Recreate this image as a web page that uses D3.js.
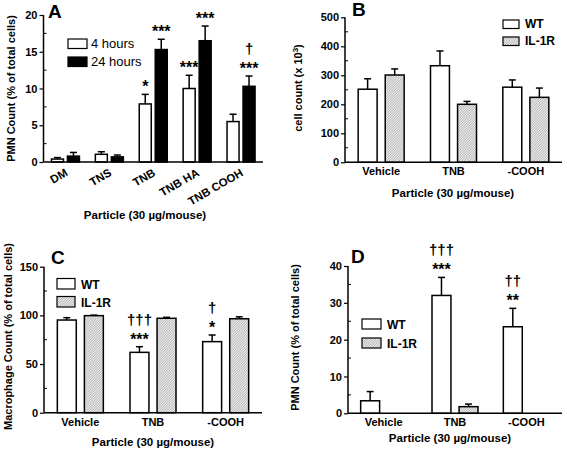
<!DOCTYPE html>
<html><head><meta charset="utf-8">
<script src="https://cdn.jsdelivr.net/npm/d3@7"></script>
<style>
html,body{margin:0;padding:0;background:#fff;}
svg{display:block;font-family:"Liberation Sans",Arial,sans-serif;}
</style></head>
<body><svg id="c" width="567" height="451"></svg>
<script>
// ---- Data ----
const catsA = ["DM", "TNS", "TNB", "TNB HA", "TNB COOH"];
const seriesA = ["4 hours", "24 hours"];
const a4h = [0.4, 1.05, 7.9, 10.0, 5.5];
const a4hErr = [0.2, 0.35, 1.3, 1.8, 1.0];
const a24h = [0.8, 0.7, 15.3, 16.5, 10.3];
const a24hErr = [0.5, 0.25, 1.4, 2.0, 1.4];
const a4hStars = ["", "", "*", "***", ""];
const a24hStars = ["", "", "***", "***", "***"];
const a24hDaggers = ["", "", "", "", "†"];
const ticksA = [0, 5, 10, 15, 20];

const catsBCD = ["Vehicle", "TNB", "-COOH"];
const seriesBCD = ["WT", "IL-1R"];
const bWT = [252, 333, 259];
const bWTErr = [36, 51, 25];
const bIL = [301, 200, 224];
const bILErr = [21, 10, 32];
const ticksB = [0, 100, 200, 300, 400, 500];

const cWT = [95.2, 62, 73];
const cWTErr = [2.4, 5.8, 6.8];
const cIL = [99.7, 97, 96.5];
const cILErr = [0.5, 1, 2];
const cWTStars = ["", "***", "*"];
const cWTDaggers = ["", "†††", "†"];
const ticksC = [0, 50, 100, 150];

const dWT = [3.4, 32, 23.5];
const dWTErr = [2.5, 4.9, 5];
const dIL = [0, 1.8, 0];
const dILErr = [0, 0.7, 0];
const dWTStars = ["", "***", "**"];
const dWTDaggers = ["", "†††", "††"];
const ticksD = [0, 10, 20, 30, 40];

const emptyA = catsA.map(() => "");
const empty3 = catsBCD.map(() => "");

// ---- Drawing ----
const svg = d3.select("#c");
const defs = svg.append("defs");
const pat = defs.append("pattern").attr("id", "hatch").attr("patternUnits", "userSpaceOnUse")
  .attr("width", 2.5).attr("height", 2.5);
pat.append("rect").attr("width", 2.5).attr("height", 2.5).attr("fill", "#f0f0f0");
pat.append("path").attr("d", "M-1,1 l2,-2 M0,2.5 l2.5,-2.5 M1.5,3.5 l2,-2")
  .attr("stroke", "#8c8c8c").attr("stroke-width", 0.7);

const fills = { white: "#fff", black: "#000", hatch: "url(#hatch)" };

function panel(cfg) {
  const g = svg.append("g");
  const x = d3.scaleBand().domain(cfg.cats).range(cfg.xr);
  const xi = d3.scaleBand().domain(d3.range(cfg.series.length)).range([-cfg.half, cfg.half]).paddingInner(cfg.pad);
  const y = d3.scaleLinear().domain(cfg.ydom).range(cfg.yr);

  // bars
  cfg.series.forEach((s, si) => {
    const vals = cfg.values[si], errs = cfg.errs[si];
    cfg.cats.forEach((c, ci) => {
      const v = vals[ci];
      const cx = x(c) + x.bandwidth() / 2;
      const bx = cx + xi(si);
      const bw = xi.bandwidth();
      if (v > 0) {
        g.append("rect").attr("x", bx).attr("y", y(v)).attr("width", bw)
          .attr("height", y(0) - y(v)).attr("fill", fills[cfg.fills[si]])
          .attr("stroke", "#000").attr("stroke-width", 1.5);
      }
      const e = errs[ci];
      if (e > 0) {
        const mx = bx + bw / 2, yt = y(v + e);
        g.append("line").attr("x1", mx).attr("x2", mx).attr("y1", y(v)).attr("y2", yt)
          .attr("stroke", "#000").attr("stroke-width", 1.5);
        g.append("line").attr("x1", mx - 3.5).attr("x2", mx + 3.5).attr("y1", yt).attr("y2", yt)
          .attr("stroke", "#000").attr("stroke-width", 1.5);
      }
      const st = cfg.stars[si][ci], dg = cfg.daggers[si][ci];
      const sb = y(v + e) - 2;
      if (st) g.append("text").attr("x", bx + bw / 2).attr("y", sb).attr("text-anchor", "middle")
        .attr("font-size", 16).attr("font-weight", "bold").attr("fill", "#000").text(st);
      if (dg) g.append("text").attr("x", bx + bw / 2).attr("y", sb - 20).attr("text-anchor", "middle")
        .attr("font-size", 15).attr("font-weight", "bold").attr("fill", "#000").text(dg);
    });
  });

  // axes
  const ax = cfg.xr[0];
  g.append("line").attr("x1", ax).attr("x2", ax).attr("y1", y(cfg.ydom[1])).attr("y2", y(0))
    .attr("stroke", "#000").attr("stroke-width", 1.5);
  g.append("line").attr("x1", ax).attr("x2", cfg.xr[1]).attr("y1", y(0)).attr("y2", y(0))
    .attr("stroke", "#000").attr("stroke-width", 1.5);
  const ya = d3.axisLeft(y).tickValues(cfg.ticks).tickSize(4).tickFormat(d3.format("d"));
  const yg = g.append("g").attr("transform", `translate(${ax},0)`).call(ya);
  yg.select(".domain").remove();
  yg.selectAll(".tick line").attr("stroke-width", 1.2);
  yg.selectAll(".tick text").attr("font-size", 11).attr("font-weight", "bold")
    .attr("font-family", "Liberation Sans, Arial, sans-serif").attr("x", -6);
  // minor ticks
  const step = cfg.ticks[1] - cfg.ticks[0];
  cfg.ticks.slice(0, -1).forEach(t => {
    g.append("line").attr("x1", ax).attr("x2", ax + 3).attr("y1", y(t + step / 2)).attr("y2", y(t + step / 2))
      .attr("stroke", "#000").attr("stroke-width", 1);
  });

  // x labels
  cfg.cats.forEach(c => {
    const cx = x(c) + x.bandwidth() / 2;
    if (cfg.rot) {
      g.append("text").attr("transform", `translate(${cx + 3},${y(0) + 13}) rotate(-30)`)
        .attr("text-anchor", "end").attr("font-size", 11.5).attr("font-weight", "bold").text(c);
    } else {
      g.append("text").attr("x", cx).attr("y", y(0) + 13).attr("text-anchor", "middle")
        .attr("font-size", 11).attr("font-weight", "bold").text(c);
    }
  });
  g.append("text").attr("x", cfg.xt[0]).attr("y", cfg.xt[1]).attr("text-anchor", "middle")
    .attr("font-size", 11.5).attr("font-weight", "bold").text("Particle (30 µg/mouse)");
  // y label
  const yl = g.append("text").attr("transform", `translate(${cfg.yt[0]},${cfg.yt[1]}) rotate(-90)`)
    .attr("text-anchor", "middle").attr("font-size", 11).attr("font-weight", "bold");
  if (cfg.ysup) {
    yl.append("tspan").text(cfg.ylabel);
    yl.append("tspan").attr("font-size", 8).attr("dy", -4).text(cfg.ysup);
    yl.append("tspan").attr("dy", 4).text(")");
  } else yl.text(cfg.ylabel);
  // panel letter
  g.append("text").attr("x", cfg.letter[1]).attr("y", cfg.letter[2]).attr("font-size", 19)
    .attr("font-weight", "bold").text(cfg.letter[0]);
  // legend
  const L = cfg.legend;
  cfg.series.forEach((s, si) => {
    const ly = L.y + si * L.dy;
    g.append("rect").attr("x", L.x).attr("y", ly).attr("width", L.w).attr("height", L.h)
      .attr("fill", fills[cfg.fills[si]]).attr("stroke", "#000").attr("stroke-width", 1.2);
    g.append("text").attr("x", L.x + L.w + L.tx).attr("y", ly + L.h - 0.5)
      .attr("font-size", L.fs).attr("font-weight", L.fw).text(s);
  });
}

panel({
  cats: catsA, series: seriesA, values: [a4h, a24h], errs: [a4hErr, a24hErr],
  stars: [a4hStars, a24hStars], daggers: [emptyA, a24hDaggers], fills: ["white", "black"],
  xr: [43.5, 263], half: 14, pad: 0.25, ydom: [0, 20], yr: [162, 15], ticks: ticksA,
  rot: true, xt: [145, 219], yt: [15, 88.5], ylabel: "PMN Count (% of total cells)",
  letter: ["A", 48, 18],
  legend: { x: 68, y: 39, dy: 18, w: 19, h: 9.5, tx: 4, fs: 13, fw: "normal" }
});
panel({
  cats: catsBCD, series: seriesBCD, values: [bWT, bIL], errs: [bWTErr, bILErr],
  stars: [empty3, empty3], daggers: [empty3, empty3], fills: ["white", "hatch"],
  xr: [345, 562], half: 23, pad: 0.3, ydom: [0, 500], yr: [162.3, 17.3], ticks: ticksB,
  rot: false, xt: [453, 197], yt: [302, 88], ylabel: "cell count (x 10", ysup: "3",
  letter: ["B", 352, 16],
  legend: { x: 503, y: 20, dy: 17, w: 16, h: 8.5, tx: 6, fs: 12, fw: "bold" }
});
panel({
  cats: catsBCD, series: seriesBCD, values: [cWT, cIL], errs: [cWTErr, cILErr],
  stars: [cWTStars, empty3], daggers: [cWTDaggers, empty3], fills: ["white", "hatch"],
  xr: [44, 262], half: 23, pad: 0.3, ydom: [0, 150], yr: [412.7, 266.7], ticks: ticksC,
  rot: false, xt: [153, 446], yt: [12, 336.5], ylabel: "Macrophage Count (% of total cells)",
  letter: ["C", 51, 264],
  legend: { x: 57, y: 278.5, dy: 18, w: 18, h: 10.5, tx: 6, fs: 12, fw: "bold" }
});
panel({
  cats: catsBCD, series: seriesBCD, values: [dWT, dIL], errs: [dWTErr, dILErr],
  stars: [dWTStars, empty3], daggers: [dWTDaggers, empty3], fills: ["white", "hatch"],
  xr: [348, 562], half: 23, pad: 0.3, ydom: [0, 40], yr: [413.3, 266], ticks: ticksD,
  rot: false, xt: [450, 442], yt: [299, 337.5], ylabel: "PMN Count (% of total cells)",
  letter: ["D", 351, 263],
  legend: { x: 362, y: 319, dy: 19, w: 19, h: 10, tx: 6, fs: 12, fw: "bold" }
});
</script></body></html>
